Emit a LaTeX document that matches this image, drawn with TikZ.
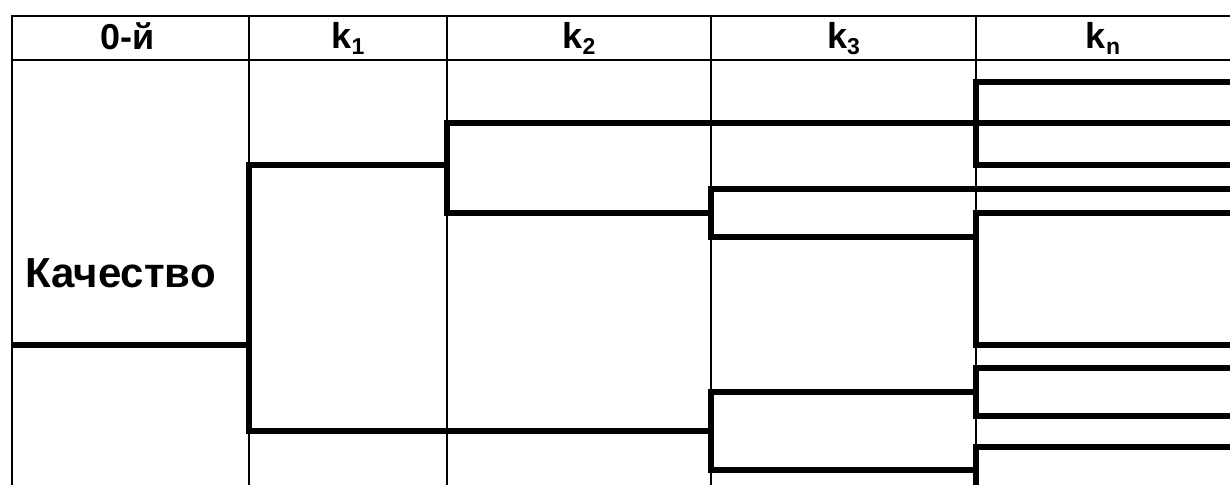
\documentclass[tikz,border=0pt]{standalone}
\usepackage{fontspec}
\setmainfont{Liberation Sans}
\newcommand{\subk}[1]{\raisebox{-0.16em}{\fontsize{23}{23}\selectfont #1}}
\begin{document}
\begin{tikzpicture}[x=1pt,y=-1pt,
  thin line/.style={line width=1.6pt},
  thick line/.style={line width=6.2pt,line join=miter},
  head/.style={font=\fontsize{36}{40}\selectfont\bfseries,inner sep=0pt,anchor=base},
  body/.style={font=\fontsize{42}{46}\selectfont\bfseries,inner sep=0pt,anchor=base west}]
\useasboundingbox (0,0) rectangle (1230,484);
\clip (0,0) rectangle (1230,484);
% table grid
\draw[thin line] (12,496) -- (12,16) -- (1240,16);
\draw[thin line] (12,60) -- (1240,60);
\foreach \x in {249,447,711,976} \draw[thin line] (\x,16) -- (\x,496);
% header labels
\node[head] (h0) at (128,50) {0-й};
\node[head] (h1) at (348,49) {k\subk{1}};
\node[head] (h2) at (579,49) {k\subk{2}};
\node[head] (h3) at (843.5,49) {k\subk{3}};
\node[head] (hn) at (1103,49) {k\subk{n}};
% body label
\node[body] (q) at (25,287) {Качество};
% brackets
\draw[thick line] (12,345) -- (249,345);
\draw[thick line] (447,165) -- (249,165) -- (249,431) -- (711,431);
\draw[thick line] (1240,123) -- (447,123) -- (447,213) -- (711,213);
\draw[thick line] (1240,189) -- (711,189) -- (711,237) -- (976,237);
\draw[thick line] (1240,82) -- (976,82) -- (976,165) -- (1240,165);
\draw[thick line] (1240,213) -- (976,213) -- (976,345) -- (1240,345);
\draw[thick line] (1240,368) -- (976,368) -- (976,416) -- (1240,416);
\draw[thick line] (976,392) -- (711,392) -- (711,470) -- (976,470);
\draw[thick line] (1240,447) -- (976,447) -- (976,496);
\end{tikzpicture}
\end{document}
